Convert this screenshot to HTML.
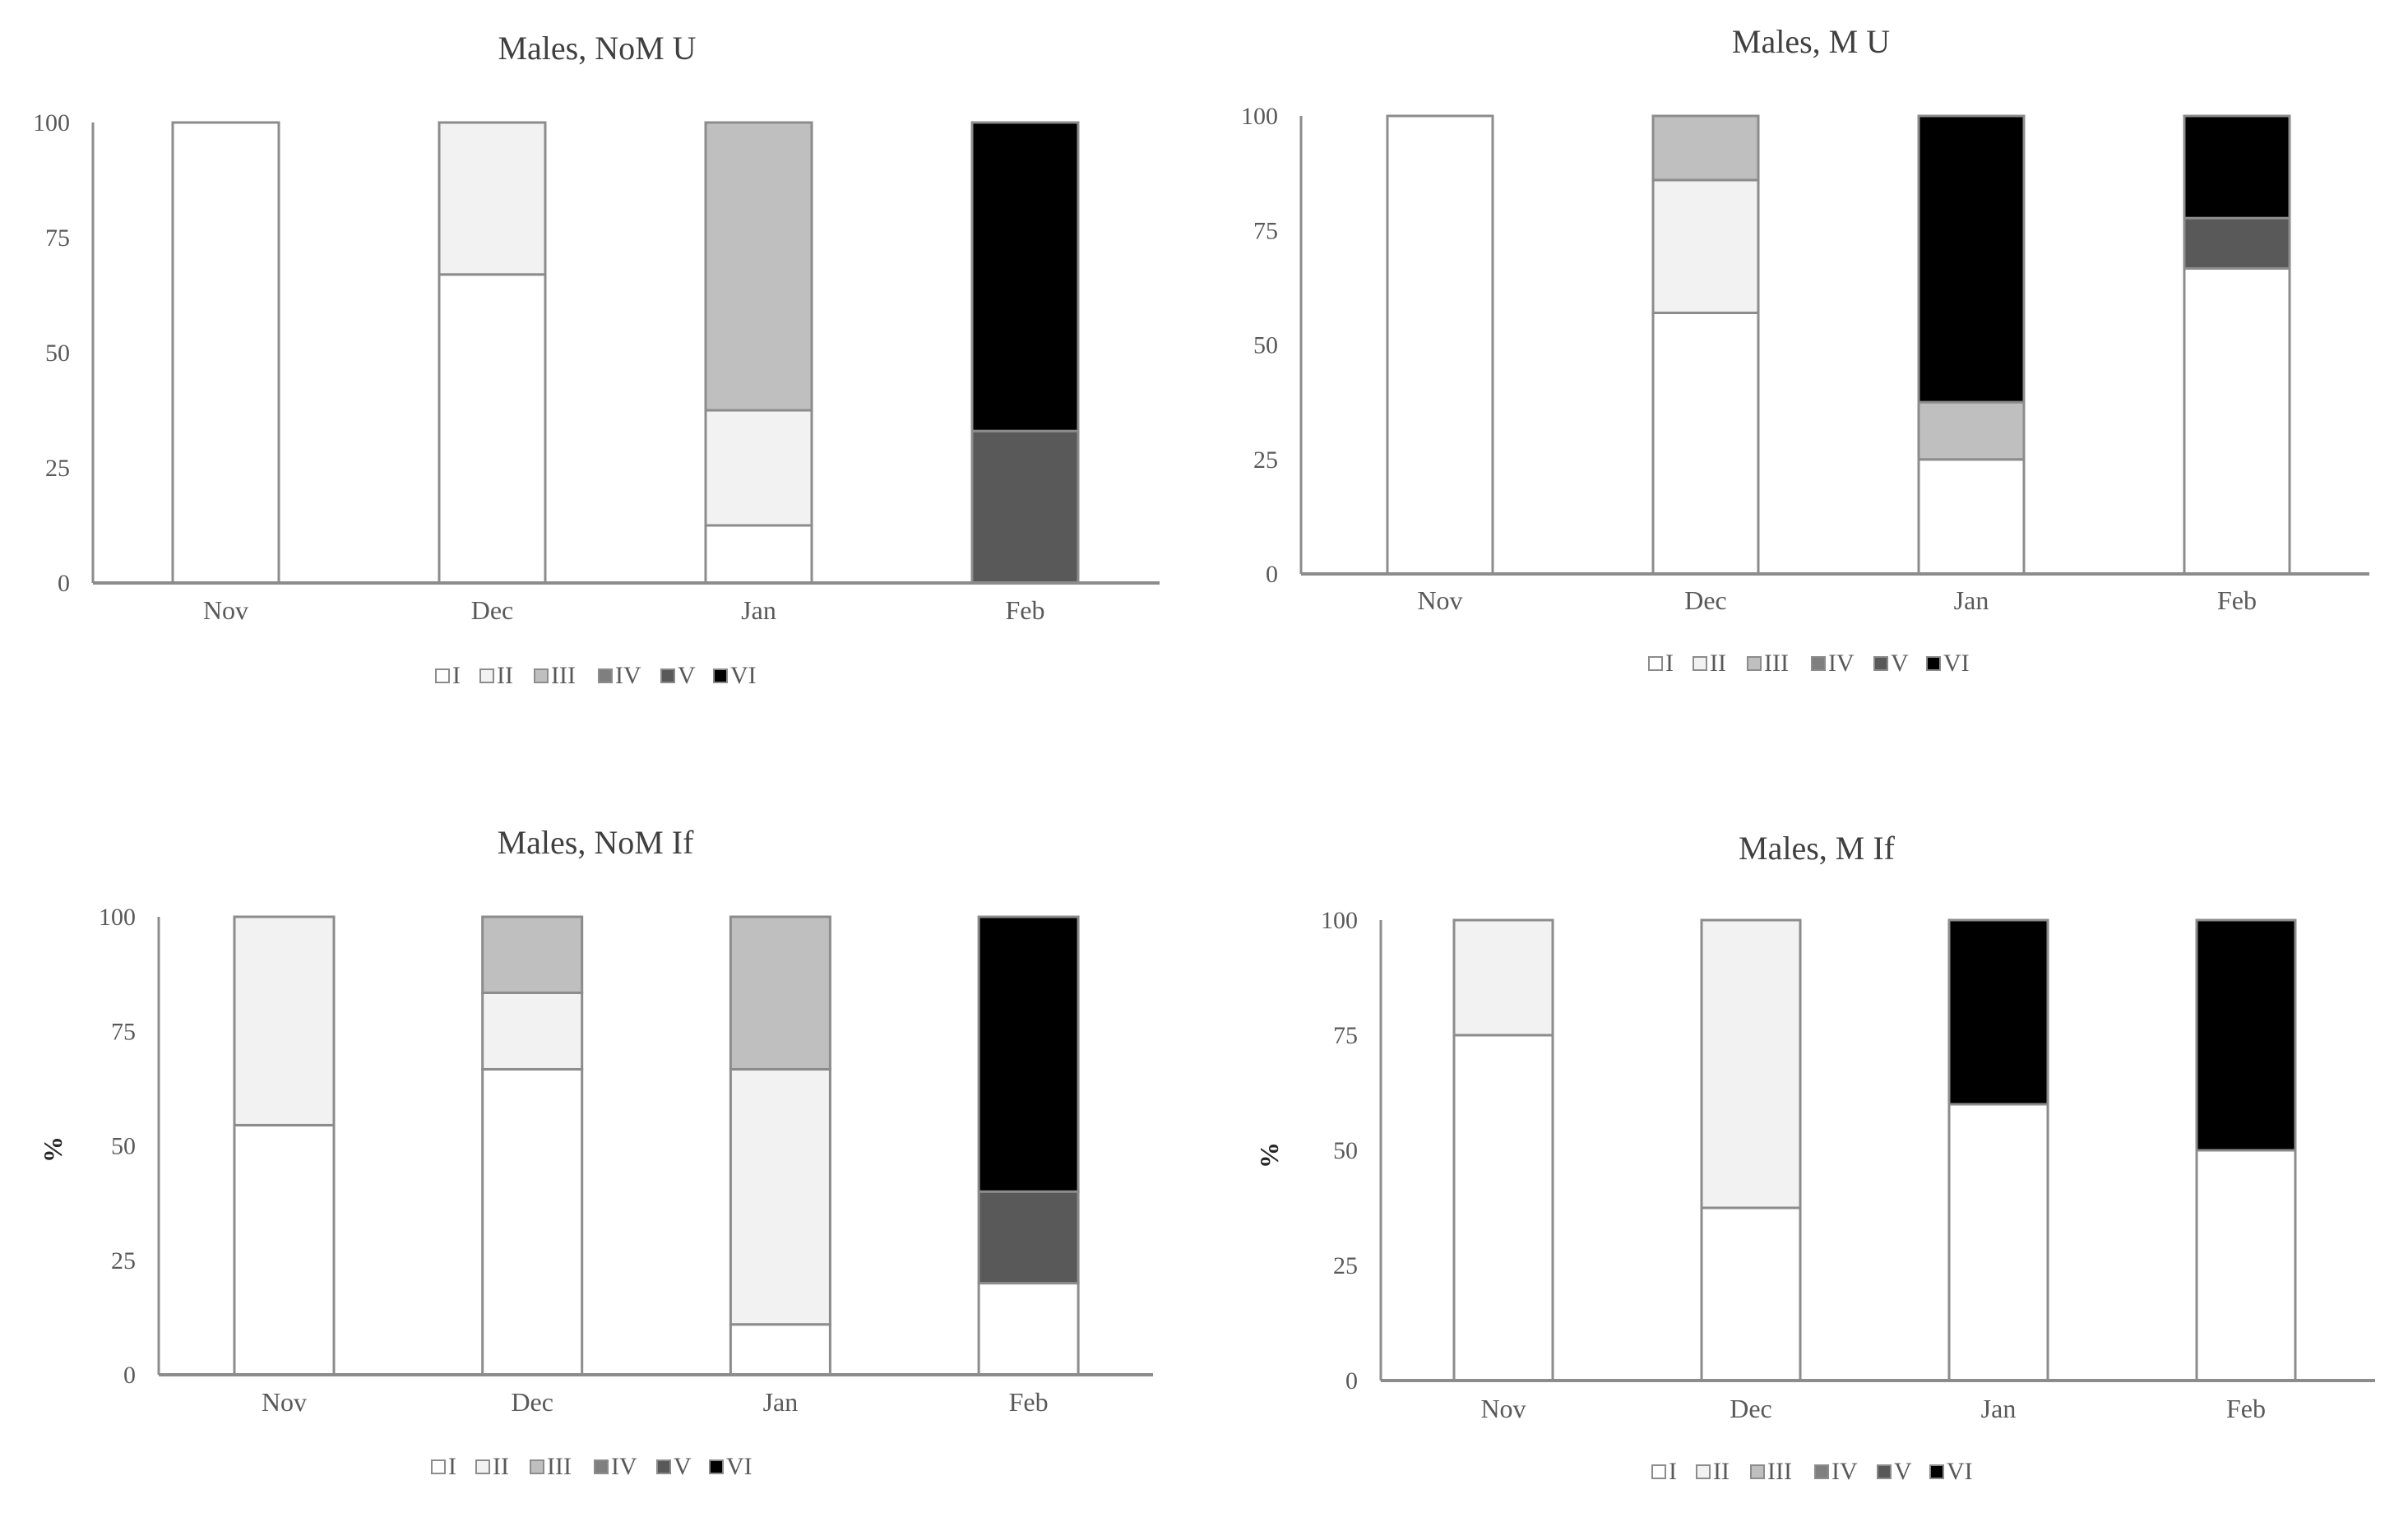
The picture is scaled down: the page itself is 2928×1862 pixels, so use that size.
<!DOCTYPE html>
<html><head><meta charset="utf-8"><style>
html,body{margin:0;padding:0;background:#fff;}
svg{display:block;font-family:"Liberation Serif",serif;}
</style></head><body>
<svg id="chart" width="2928" height="1862" viewBox="0 0 2928 1862" xmlns="http://www.w3.org/2000/svg"></svg>
<script>
const months = ["Nov","Dec","Jan","Feb"];
const stages = ["I","II","III","IV","V","VI"];
const yTicks = [0,25,50,75,100];
const titles = ["Males,  NoM U","Males,  M U","Males,  NoM If","Males,  M If"];
// values per panel: [stage][month]
const p1I=[100,67,12.5,0], p1II=[0,33,25,0], p1III=[0,0,62.5,0], p1IV=[0,0,0,0], p1V=[0,0,0,33], p1VI=[0,0,0,67];
const p2I=[100,57,25,66.7], p2II=[0,29,0,0], p2III=[0,14,12.5,0], p2IV=[0,0,0,0], p2V=[0,0,0,11], p2VI=[0,0,62.5,22.3];
const p3I=[54.5,66.7,11,20], p3II=[45.5,16.7,55.7,0], p3III=[0,16.6,33.3,0], p3IV=[0,0,0,0], p3V=[0,0,0,20], p3VI=[0,0,0,60];
const p4I=[75,37.5,60,50], p4II=[25,62.5,0,0], p4III=[0,0,0,0], p4IV=[0,0,0,0], p4V=[0,0,0,0], p4VI=[0,0,40,50];
const panelData=[[p1I,p1II,p1III,p1IV,p1V,p1VI],[p2I,p2II,p2III,p2IV,p2V,p2VI],[p3I,p3II,p3III,p3IV,p3V,p3VI],[p4I,p4II,p4III,p4IV,p4V,p4VI]];
const colors=["#ffffff","#f2f2f2","#bfbfbf","#7f7f7f","#595959","#000000"];
const layouts=[
 {ax:113,x1:1410,y100:149,y0:709,bx0:210,bstep:324,bw:129,tx:726,ty:72,my:753,ly:831,lc:735,pct:false},
 {ax:1582,x1:2881,y100:141,y0:698,bx0:1687,bstep:323,bw:128,tx:2202,ty:64,my:741,ly:816,lc:2210,pct:false},
 {ax:193,x1:1402,y100:1115,y0:1672,bx0:285,bstep:301.7,bw:121,tx:724,ty:1038,my:1716,ly:1793,lc:730,pct:true,px:75,py:1398},
 {ax:1679,x1:2888,y100:1119,y0:1679,bx0:1768,bstep:301,bw:120,tx:2209,ty:1045,my:1724,ly:1799,lc:2214,pct:true,px:1554,py:1405}
];
const NS="http://www.w3.org/2000/svg";
const svg=document.getElementById("chart");
function mk(tag,attrs,parent,text){const e=document.createElementNS(NS,tag);for(const k in attrs)e.setAttribute(k,attrs[k]);if(text!==undefined)e.textContent=text;(parent||svg).appendChild(e);return e;}
panelData.forEach((data,pi)=>{
  const L=layouts[pi];
  const g=mk("g",{});
  
  
  const yS=v=>L.y0-(v/100)*(L.y0-L.y100);
  const xS=i=>L.bx0+i*L.bstep;
  const t=mk("text",{x:L.tx,y:L.ty,"font-size":40,fill:"#404040","text-anchor":"middle"},g,titles[pi]);
  
  
  yTicks.forEach(v=>{
    const tl=mk("text",{x:L.ax-28,y:yS(v)+10,"font-size":30,fill:"#595959","text-anchor":"end"},g,String(v));
    
    
  });
  if(L.pct){
    const p=mk("text",{x:L.px,y:L.py,"font-size":32,fill:"#262626","text-anchor":"middle","font-weight":"bold",transform:`rotate(-90 ${L.px} ${L.py})`},g,"%");
    
    
  }
  months.forEach((m,i)=>{
    let cum=0;
    data.forEach((series,si)=>{
      const v=series[i]; if(!v) return;
      const yt=yS(cum+v), yb=yS(cum);
      const r=mk("rect",{x:xS(i),y:yt,width:L.bw,height:yb-yt,fill:colors[si],stroke:"#8c8c8c","stroke-width":3},g);
      
      
      cum+=v;
    });
    const ml=mk("text",{x:xS(i)+L.bw/2,y:L.my,"font-size":32,fill:"#595959","text-anchor":"middle"},g,m);
    
    
  });
  const axl=mk("line",{x1:L.ax,y1:L.y100,x2:L.ax,y2:L.y0,stroke:"#8c8c8c","stroke-width":3},g);
  
  
  const xl=mk("line",{x1:L.ax,y1:L.y0,x2:L.x1,y2:L.y0,stroke:"#8c8c8c","stroke-width":4},g);
  
  
  const lw=[28,40,52,50,38,46];
  const widths=lw.map(w=>w+26);
  const total=widths.reduce((a,b)=>a+b,0);
  let lx=L.lc-total/2;
  stages.forEach((s,si)=>{
    const e=mk("g",{},g);
    
    
    mk("rect",{x:lx,y:L.ly-17,width:16,height:16,fill:colors[si],stroke:"#8c8c8c","stroke-width":2},e);
    mk("text",{x:lx+20,y:L.ly,"font-size":30,fill:"#595959"},e,s);
    lx+=widths[si];
  });
});
</script>
</body></html>
